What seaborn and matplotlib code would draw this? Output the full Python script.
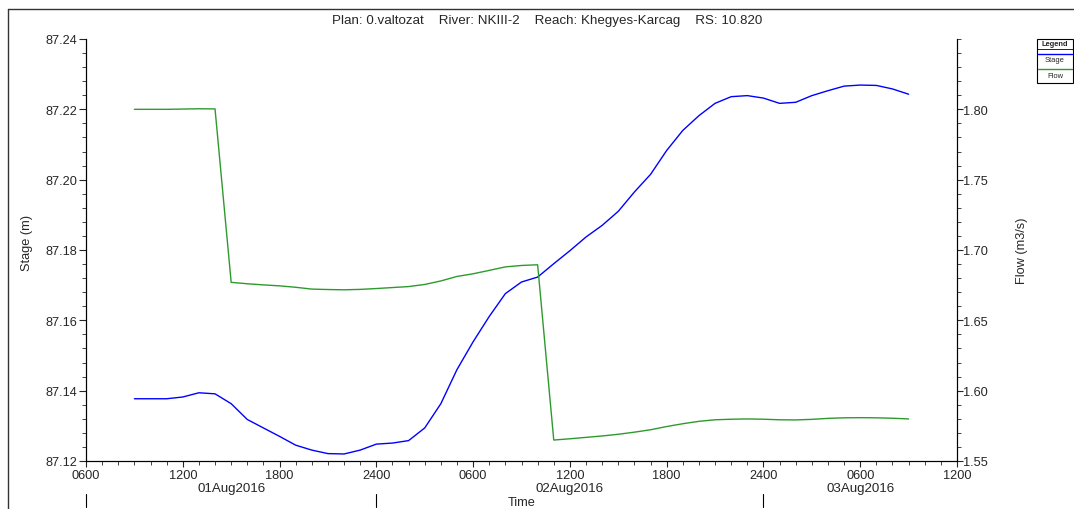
import numpy as np
import pandas as pd
import matplotlib
matplotlib.use("Agg")
import matplotlib.pyplot as plt
import matplotlib.dates as mdates
import matplotlib.ticker as mticker
import matplotlib.transforms as mtrans
from matplotlib.lines import Line2D
from matplotlib.patches import Rectangle
import seaborn as sns

# Hourly output, 01Aug2016 0900 to 03Aug2016 0900
times = pd.date_range("2016-08-01 09:00", periods=49, freq="h")

stage_m = [
    87.1377, 87.1377, 87.1377, 87.1382, 87.1394, 87.1391, 87.1363, 87.1318,
    87.1294, 87.1270, 87.1245, 87.1231, 87.1221, 87.1220, 87.1231, 87.1248,
    87.1251, 87.1258, 87.1294, 87.1363, 87.1460, 87.1539, 87.1611, 87.1676,
    87.1709, 87.1723, 87.1761, 87.1798, 87.1837, 87.1870, 87.1910, 87.1965,
    87.2015, 87.2083, 87.2140, 87.2182, 87.2217, 87.2236, 87.2239, 87.2232,
    87.2217, 87.2220, 87.2239, 87.2253, 87.2266, 87.2269, 87.2268, 87.2258,
    87.2243,
]

flow_m3s = [
    1.8000, 1.8000, 1.8000, 1.8002, 1.8004, 1.8003,
    1.6770, 1.6760, 1.6752, 1.6745, 1.6735, 1.6722, 1.6719, 1.6717, 1.6720,
    1.6726, 1.6733, 1.6740, 1.6755, 1.6780, 1.6812, 1.6831, 1.6855, 1.6880,
    1.6890, 1.6895,
    1.5649, 1.5658, 1.5668, 1.5678, 1.5690, 1.5705, 1.5722, 1.5745, 1.5765,
    1.5782, 1.5793, 1.5797, 1.5799, 1.5797, 1.5793, 1.5792, 1.5796, 1.5803,
    1.5807, 1.5808, 1.5807, 1.5804, 1.5799,
]

title = "Plan: 0.valtozat    River: NKIII-2    Reach: Khegyes-Karcag    RS: 10.820"
day_labels = ["01Aug2016", "02Aug2016", "03Aug2016"]
day_centers = ["2016-08-01 15:00", "2016-08-02 12:00", "2016-08-03 06:00"]
day_marks = ["2016-08-01 06:00", "2016-08-02 00:00", "2016-08-03 00:00"]

df = pd.DataFrame({"Time": times, "Stage": stage_m, "Flow": flow_m3s})

sns.set_style("white")
plt.rcParams["font.family"] = ["Liberation Sans", "DejaVu Sans"]
FS = 9.2
plt.rcParams["font.size"] = FS

W, H = 1074, 510
fig = plt.figure(figsize=(W / 100, H / 100), dpi=100)
ax = fig.add_axes([86 / W, 1 - 462 / H, (957 - 86) / W, (462 - 40) / H])
ax2 = ax.twinx()

blue = "#0000ff"
green = "#2e9a2e"
sns.lineplot(data=df, x="Time", y="Stage", ax=ax, color=blue, lw=1.0)
sns.lineplot(data=df, x="Time", y="Flow", ax=ax2, color=green, lw=1.0)

ax.set_xlim(pd.Timestamp("2016-08-01 06:00"), pd.Timestamp("2016-08-03 12:00"))
ax.set_ylim(87.12, 87.24)
ax2.set_ylim(1.55, 1.85)

# spines
for a in (ax, ax2):
    a.spines["top"].set_visible(False)
    for s in ("left", "right", "bottom"):
        a.spines[s].set_color("black")
        a.spines[s].set_linewidth(0.8)
    a.grid(False)

# x axis ticks
ax.xaxis.set_major_locator(mdates.HourLocator(byhour=[0, 6, 12, 18]))
ax.xaxis.set_minor_locator(mdates.HourLocator(interval=1))


def hhmm(x, pos):
    d = mdates.num2date(x)
    return "2400" if d.hour == 0 else f"{d.hour:02d}00"


ax.xaxis.set_major_formatter(mticker.FuncFormatter(hhmm))
ax.tick_params(axis="x", which="major", direction="out", length=4, width=0.8,
               pad=2, labelsize=FS, bottom=True)
ax.tick_params(axis="x", which="minor", direction="out", length=3, width=0.6,
               bottom=True)

# left axis
ax.yaxis.set_major_locator(mticker.MultipleLocator(0.02))
ax.yaxis.set_minor_locator(mticker.MultipleLocator(0.004))
ax.yaxis.set_major_formatter(mticker.FormatStrFormatter("%.2f"))
ax.tick_params(axis="y", which="major", direction="out", length=5, width=0.8,
               pad=1, labelsize=FS, left=True)
ax.tick_params(axis="y", which="minor", direction="out", length=3, width=0.6,
               left=True)

# right axis
ax2.yaxis.set_major_locator(mticker.FixedLocator([1.55, 1.60, 1.65, 1.70, 1.75, 1.80]))
ax2.yaxis.set_minor_locator(mticker.MultipleLocator(0.01))
ax2.yaxis.set_major_formatter(mticker.FormatStrFormatter("%.2f"))
ax2.tick_params(axis="y", which="major", direction="out", length=4, width=0.8,
                pad=0.5, labelsize=FS, right=True)
ax2.tick_params(axis="y", which="minor", direction="out", length=3, width=0.6,
                right=True)

ax.set_ylabel("Stage (m)", fontsize=FS)
ax.yaxis.set_label_coords((33 - 86) / 871, 0.52)
ax2.set_ylabel("Flow (m3/s)", fontsize=FS)
ax2.yaxis.set_label_coords((1016 - 86) / 871, 0.50)
ax.set_xlabel("Time", fontsize=FS)
ax.xaxis.label.set_va("center")
ax.xaxis.set_label_coords(0.5, -0.097)

# date row under the hour labels
tr = mtrans.blended_transform_factory(ax.transData, ax.transAxes)
for lab, c in zip(day_labels, day_centers):
    ax.text(mdates.date2num(pd.Timestamp(c)), -0.064, lab, transform=tr,
            ha="center", va="center", fontsize=9.6)
for m in day_marks:
    xm = mdates.date2num(pd.Timestamp(m))
    ax.add_line(Line2D([xm, xm], [-0.079, -0.109], transform=tr, color="black",
                       lw=0.8, clip_on=False))

# title
fig.text(547 / W, 1 - 21 / H, title, ha="center", va="center", fontsize=9.6)

# window frame lines
fig.add_artist(Line2D([8 / W, 1], [1 - 10 / H, 1 - 10 / H], color="#333333", lw=1.0))
fig.add_artist(Line2D([8 / W, 8 / W], [0, 1 - 10 / H], color="#333333", lw=1.0))

# legend box
lx0, lx1 = 1037 / W, 1073 / W
ly0, ly1 = 1 - 84 / H, 1 - 40 / H
fig.add_artist(Rectangle((lx0, ly0), lx1 - lx0, ly1 - ly0, transform=fig.transFigure,
                         fill=True, facecolor="white", edgecolor="black", lw=0.8))
cx = (lx0 + lx1) / 2
fig.text(cx, 1 - 45 / H, "Legend", ha="center", va="center", fontsize=5.4,
         fontweight="bold")
fig.add_artist(Line2D([lx0, lx1], [1 - 49.5 / H] * 2, color="black", lw=0.6))
fig.add_artist(Line2D([lx0 + 1 / W, lx1 - 1 / W], [1 - 54.5 / H] * 2, color=blue, lw=1.0))
fig.text(cx, 1 - 61 / H, "Stage", ha="center", va="center", fontsize=5.4)
fig.add_artist(Line2D([lx0 + 1 / W, lx1 - 1 / W], [1 - 69.5 / H] * 2, color=green, lw=1.0))
fig.text(cx, 1 - 76.5 / H, "Flow", ha="center", va="center", fontsize=5.4)

fig.savefig("out.png", dpi=100, facecolor="white")
